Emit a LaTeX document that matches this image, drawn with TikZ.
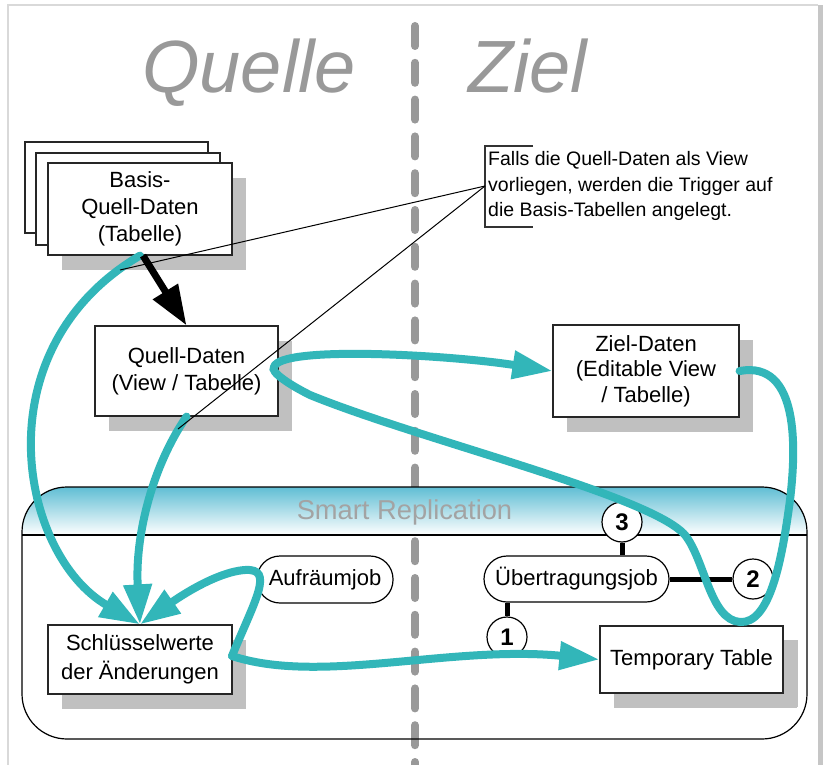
\documentclass[tikz,border=0pt]{standalone}
\usepackage{fontspec}
\setmainfont{Liberation Sans}
\usetikzlibrary{arrows.meta,calc,shadows}
\definecolor{teal1}{RGB}{50,182,185}
\definecolor{hdr}{RGB}{96,190,212}
\definecolor{shadowgray}{RGB}{192,192,192}
\definecolor{titlegray}{RGB}{153,153,153}
\begin{document}
\begin{tikzpicture}[x=1pt,y=-1pt,
  box/.style={draw=black!85, line width=1.2pt, fill=white, inner sep=0pt, align=center,
    font=\fontsize{22}{27}\selectfont,
    drop shadow={shadow xshift=14pt, shadow yshift=-15pt, opacity=1, fill=shadowgray}},
  pill/.style={draw, line width=1.2pt, fill=white, rounded corners=23pt, inner sep=0pt,
    font=\fontsize{22}{27}\selectfont},
  num/.style={draw, circle, line width=1.2pt, fill=white, minimum size=40pt, inner sep=0pt,
    font=\fontsize{24}{24}\selectfont\bfseries},
  flow/.style={draw=teal1, line width=8pt, line cap=round},
  flowarrow/.style={flow, -{Triangle[length=40pt,width=27pt]}},
  link/.style={line width=5pt},
  callout/.style={line width=1pt},
  title/.style={text=titlegray, inner sep=0pt, font=\fontsize{74}{80}\selectfont\itshape},
]
\useasboundingbox (0,0) rectangle (824,765);
% page
\fill[white] (0,0) rectangle (824,765);
\draw[gray!30, line width=1.5pt] (8,765) -- (8,5) -- (818,5);
\fill[gray!45] (818,5) rectangle (823,765);
% centre line
\draw[titlegray, line width=8pt, line cap=round, dash pattern=on 20pt off 16.8pt] (415,26) -- (415,765);
% titles
\node[title, anchor=base west] (tq) at (142,93) {Quelle};
\node[title, anchor=base west] (tz) at (468,93) {Ziel};
% Smart Replication container
\begin{scope}
  \clip[rounded corners=45pt] (22,487) rectangle (807,739);
  \shade[top color=hdr, bottom color=white] (22,487) rectangle (807,535);
\end{scope}
\draw[line width=1.2pt, rounded corners=45pt] (22,487) rectangle (807,739);
\draw[line width=1.2pt] (22,535) -- (807,535);
\node[anchor=base, text=titlegray!90, inner sep=0pt, font=\fontsize{27.3}{30}\selectfont] (sr) at (404.5,519) {Smart Replication};
% Basis stack
\draw[draw=black!85, line width=1.2pt, fill=white] (25,142) rectangle (208,233);
\draw[draw=black!85, line width=1.2pt, fill=white] (36,153) rectangle (220,245);
\node[box, minimum width=184pt, minimum height=92pt] (basis) at (140,209) {Basis-\\Quell-Daten\\(Tabelle)};
\node[box, minimum width=183pt, minimum height=90pt] (qd) at (186.5,371) {Quell-Daten\\(View / Tabelle)};
\node[box, minimum width=186pt, minimum height=92pt, font=\fontsize{22}{25.5}\selectfont] (zd) at (646,371) {Ziel-Daten\\(Editable View\\/ Tabelle)};
\node[box, minimum width=184pt, minimum height=69pt, font=\fontsize{22}{29}\selectfont] (sw) at (140,659.5) {Schlüsselwerte\\der Änderungen};
\node[box, minimum width=183pt, minimum height=67pt, drop shadow={shadow xshift=15pt, shadow yshift=-14pt, opacity=1, fill=shadowgray}] (tt) at (691.5,659.5) {Temporary Table};
% jobs
\node[pill, minimum width=136pt, minimum height=47pt] (auf) at (325,579.5) {Aufräumjob};
\node[pill, minimum width=185pt, minimum height=46pt] (uj) at (576.5,579) {Übertragungsjob};
\node[num] (c3) at (622,522) {3};
\node[num] (c2) at (753,579) {2};
\node[num] (c1) at (507,637) {1};
\draw[link] (c3.south) -- (c3.south |- uj.north);
\draw[link] (uj.east) -- (c2.west);
\draw[link] (c1.north) -- (c1.north |- uj.south);
% note
\node[anchor=west, align=left, inner sep=0pt, font=\fontsize{19.5}{25.5}\selectfont] (note) at (488,186)
  {Falls die Quell-Daten als View\\vorliegen, werden die Trigger auf\\die Basis-Tabellen angelegt.};
\draw[black!80, line width=1.2pt] (533,146) -- (485,146) -- (485,227) -- (533,227);
\coordinate (cp) at (485,186);
\coordinate (ce1) at (120,270);
\coordinate (ce2) at (178,429);
% teal flows
\draw[flowarrow] (basis.south) .. controls (-20,350) and (20,555) .. (sw.north);
\draw[flowarrow] (qd.south) .. controls (150,470) and (135,540) .. (sw.north);
\coordinate (swr) at (232,656);
\draw[flowarrow] (swr) .. controls (255,600) and (275,568) .. (245,570) .. controls (215,572) and (175,600) .. (sw.north);
\draw[flowarrow] (swr) .. controls (320,685) and (450,645) .. (tt.west);
\coordinate (qdr) at (274,367);
\draw[flowarrow] (qdr) .. controls (280,345) and (450,355) .. (zd.west);
\draw[flow] (zd.east) .. controls (800,360) and (796,450) .. (790,500)
  .. controls (782,560) and (770,624) .. (740,622)
  .. controls (710,620) and (705,560) .. (685,535)
  .. controls (650,495) and (420,440) .. (310,395)
  .. controls (290,385) and (270,372) .. (qdr);
% callout lines
\draw[callout] (cp) -- (ce1);
\draw[callout] (cp) -- (ce2);
% black arrow
\draw[line width=7pt, -{Triangle[length=40pt,width=28pt]}] ($(basis.south)+(3,0)$) -- (qd.north);
\end{tikzpicture}
\end{document}
